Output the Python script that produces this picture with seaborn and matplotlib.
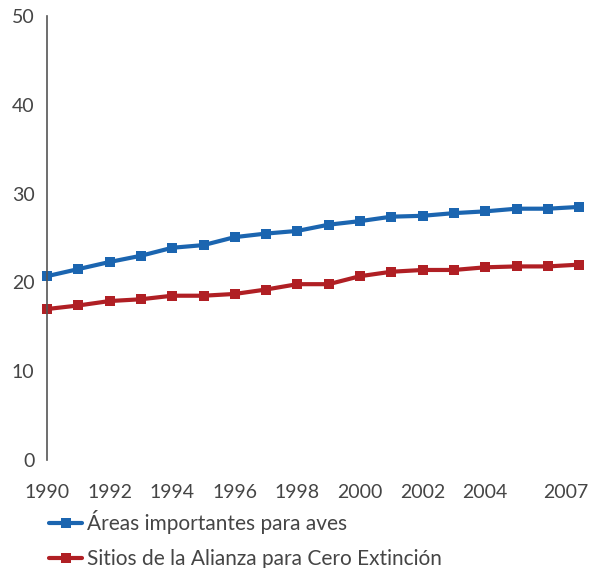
import pandas as pd
import matplotlib.pyplot as plt
import matplotlib.transforms as mtransforms
import seaborn as sns

years = list(range(1990, 2008))
areas_aves = [20.7, 21.5, 22.3, 23.0, 23.9, 24.2, 25.1, 25.5, 25.8, 26.5,
              26.9, 27.4, 27.5, 27.8, 28.0, 28.3, 28.3, 28.5]
sitios_aze = [17.0, 17.4, 17.9, 18.1, 18.5, 18.5, 18.7, 19.2, 19.8, 19.8,
              20.7, 21.2, 21.4, 21.4, 21.7, 21.8, 21.8, 22.0]
series_names = ['Áreas importantes para aves', 'Sitios de la Alianza para Cero Extinción']
x_ticks = [1990, 1992, 1994, 1996, 1998, 2000, 2002, 2004, 2007]
y_ticks = [0, 10, 20, 30, 40, 50]

df = pd.DataFrame({
    'year': years * 2,
    'value': areas_aves + sitios_aze,
    'serie': [series_names[0]] * len(years) + [series_names[1]] * len(years),
})

sns.set_style('white')
plt.rcParams['font.family'] = ['Lato', 'DejaVu Sans']
txt_color = '#454545'

fig = plt.figure(figsize=(5.94, 5.68), dpi=100)
ax = fig.add_axes([47 / 594, 108 / 568, 541.5 / 594, 444 / 568])

sns.lineplot(data=df, x='year', y='value', hue='serie', style='serie',
             palette=['#1b65b0', '#b01f24'], markers=['s', 's'], dashes=False,
             linewidth=3, markersize=7, markeredgewidth=0, ax=ax, clip_on=False)

ax.set_xlim(1990, 2007.3)
ax.set_ylim(0, 50)
ax.set_xticks(x_ticks)
ax.set_yticks(y_ticks)
ax.set_xlabel('')
ax.set_ylabel('')
ax.tick_params(axis='x', length=0, pad=17, labelsize=14, labelcolor=txt_color)
ax.tick_params(axis='y', length=0, pad=9, labelsize=14, labelcolor=txt_color)

# la etiqueta 2007 va un poco corrida a la izquierda, como en el original
last = ax.get_xticklabels()[-1]
last.set_transform(last.get_transform() + mtransforms.ScaledTranslation(-13 / 100, 0, fig.dpi_scale_trans))

for s in ['top', 'right', 'bottom']:
    ax.spines[s].set_visible(False)
ax.spines['left'].set_color('#555555')
ax.spines['left'].set_linewidth(1.2)

leg = ax.legend(loc='upper left', bbox_to_anchor=(-0.012, -0.094), frameon=False,
                fontsize=15, handlelength=1.6, handletextpad=0.25, labelspacing=0.72,
                borderaxespad=0)
for t in leg.get_texts():
    t.set_color(txt_color)

fig.savefig('out.png', dpi=100)
